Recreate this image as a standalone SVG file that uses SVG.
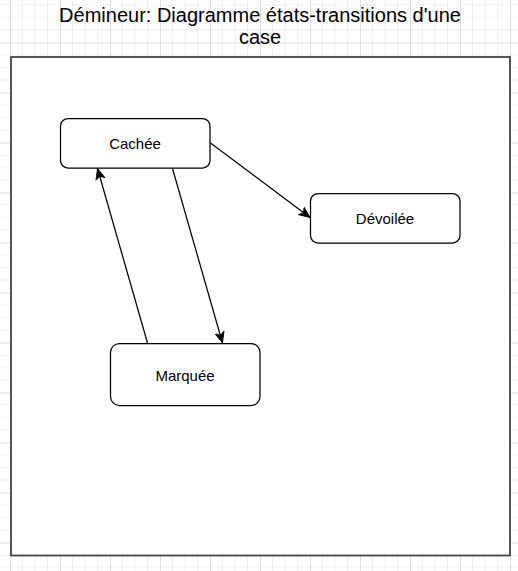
<svg xmlns="http://www.w3.org/2000/svg" width="518" height="571" viewBox="0 0 518 571">
  <defs>
    <pattern id="grid" patternUnits="userSpaceOnUse" x="10" y="42.5" width="50" height="50">
      <path d="M12.5,0 V50 M25,0 V50 M37.5,0 V50 M0,12.5 H50 M0,25 H50 M0,37.5 H50" stroke="#efefef" stroke-width="1" fill="none"/>
      <path d="M0.5,0 V50 M0,0.5 H50" stroke="#dedede" stroke-width="1" fill="none"/>
    </pattern>
    <marker id="arrow" viewBox="0 0 11 11" refX="11" refY="5.5" markerWidth="11" markerHeight="11" markerUnits="userSpaceOnUse" orient="auto">
      <path d="M0,0.8 L11,5.5 L0,10.2 L2.9,5.5 Z" fill="#000" stroke="#000" stroke-width="0.8" stroke-linejoin="miter"/>
    </marker>
    <style>
      .node rect { fill: #ffffff; stroke: #000000; stroke-width: 1.25; }
      .node text { font-family: "Liberation Sans", Arial, sans-serif; font-size: 15px; fill: #000000; text-anchor: middle; dominant-baseline: central; }
      .edge { fill: none; stroke: #000000; stroke-width: 1.25; marker-end: url(#arrow); }
      .title { font-family: "Liberation Sans", Arial, sans-serif; font-size: 20px; fill: #000000; text-anchor: middle; }
    </style>
  </defs>

  <rect x="0" y="0" width="518" height="571" fill="#ffffff"/>
  <rect x="0" y="0" width="518" height="571" fill="url(#grid)"/>

  <g id="title">
    <text class="title" x="260" y="21.5">Démineur: Diagramme états-transitions d'une</text>
    <text class="title" x="260" y="44">case</text>
  </g>

  <g id="frame">
    <rect x="11" y="57" width="499" height="498.5" fill="#ffffff" stroke="#444444" stroke-width="1.8"/>
  </g>

  <g id="connectors">
    <line class="edge" x1="210.5" y1="143" x2="310" y2="217.5"/>
    <line class="edge" x1="172.5" y1="168.5" x2="222.5" y2="343"/>
    <line class="edge" x1="147.5" y1="343" x2="97.5" y2="168.5"/>
  </g>

  <g id="node-cachee" class="node">
    <rect x="60.5" y="118.5" width="149.5" height="49.5" rx="7.5" ry="7.5"/>
    <text x="135" y="143.5">Cachée</text>
  </g>

  <g id="node-devoilee" class="node">
    <rect x="310.5" y="193.5" width="149.5" height="49.5" rx="7.5" ry="7.5"/>
    <text x="385" y="218.5">Dévoilée</text>
  </g>

  <g id="node-marquee" class="node">
    <rect x="110.5" y="343.5" width="149.5" height="62" rx="9" ry="9"/>
    <text x="185" y="375">Marquée</text>
  </g>
</svg>
